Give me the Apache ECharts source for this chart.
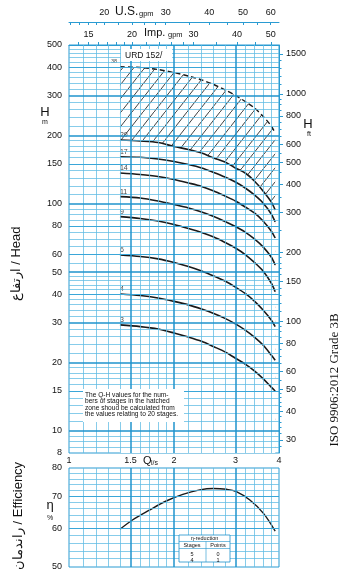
<!DOCTYPE html>
<html><head><meta charset="utf-8">
<script src="https://cdn.jsdelivr.net/npm/echarts@6/dist/echarts.min.js"></script>
<style>html,body{margin:0;padding:0;background:#fff}#c{width:350px;height:575px}</style>
</head><body><div id="c"></div>
<script>
// ---------- data ----------
const qStage = [1.4, 1.6, 1.8, 2.0, 2.2, 2.4, 2.6, 2.8, 3.0, 3.2, 3.4, 3.6, 3.8, 3.9];
const h38 = [401, 398, 390, 378, 365, 351, 335, 317, 300, 282, 264, 243, 220, 205];
const h20 = [190.9, 189.0, 186.2, 178.8, 173.4, 167.3, 159.1, 152.8, 143.8, 136.6, 126.0, 113.9, 101.9, 93.9];
const h17 = [161.2, 160.2, 157.5, 153.5, 148.9, 143.8, 137.4, 131.2, 124.7, 117.4, 109.4, 100.8, 90.2, 83.2];
const h14 = [136.6, 134.6, 131.9, 128.0, 123.5, 119.2, 113.9, 108.2, 102.9, 96.8, 91.1, 84.0, 75.9, 70.7];
const h11 = [107.5, 106.1, 102.9, 99.3, 95.9, 92.0, 87.9, 83.6, 79.4, 75.1, 70.0, 64.6, 58.3, 53.8];
const h9 = [87.8, 86.2, 84.0, 81.1, 77.9, 74.8, 71.4, 67.6, 63.9, 59.8, 55.2, 50.6, 44.8, 41.0];
const h6 = [59.5, 58.6, 57.2, 55.2, 53.0, 50.6, 48.1, 45.7, 43.0, 40.3, 37.3, 34.1, 30.8, 28.8];
const h4 = [40.1, 39.5, 38.5, 37.2, 35.9, 34.4, 32.9, 31.3, 29.6, 27.8, 25.9, 23.9, 21.6, 20.5];
const h3 = [29.3, 28.8, 28.1, 27.0, 25.9, 24.8, 23.5, 22.3, 20.9, 19.7, 18.4, 17.0, 15.6, 15.0];
const stageNames = ['20', '17', '14', '11', '9', '6', '4', '3'];

const qEff = [1.4, 1.52, 1.7, 1.9, 2.12, 2.37, 2.59, 2.83, 3.02, 3.3, 3.61, 3.9];
const effVals = [59.8, 62.5, 65.5, 68.4, 70.6, 72.1, 72.6, 72.3, 71.5, 68.7, 64.5, 59.3];

// ---------- tick labels / grid values ----------
const qLabels = [1, 1.5, 2, 3, 4];
const qGridMajor = [1.5, 2, 3];
const qGridMinor = [1.1, 1.2, 1.3, 1.4, 1.6, 1.7, 1.8, 1.9, 2.2, 2.4, 2.6, 2.8, 3.2, 3.4, 3.6, 3.8];
const hLabels = [8, 10, 15, 20, 30, 40, 50, 60, 80, 100, 150, 200, 300, 400, 500];
const hGridMajor = [10, 20, 30, 50, 100, 200, 300];
const hGridNormal = [15, 40, 60, 80, 150, 400];
const hGridMinor = [8.5, 9, 9.5, 11, 12, 13, 14, 16, 17, 18, 19, 22, 24, 26, 28, 32, 34, 36, 38, 42, 44, 46, 48,
  55, 65, 70, 75, 85, 90, 95, 110, 120, 130, 140, 160, 170, 180, 190,
  220, 240, 260, 280, 320, 340, 360, 380, 420, 440, 460, 480];
const ftLabels = [30, 40, 50, 60, 80, 100, 150, 200, 300, 400, 500, 600, 800, 1000, 1500];
const ftMinor = [28, 32, 34, 36, 38, 42, 44, 46, 48, 55, 65, 70, 75, 85, 90, 95, 110, 120, 130, 140,
  160, 170, 180, 190, 250, 350, 450, 550, 650, 700, 750, 850, 900, 950, 1100, 1200, 1300, 1400];
const usLabels = [20, 30, 40, 50, 60];
const usTicks = [16, 17, 18, 19, 20, 22, 24, 26, 28, 30, 35, 40, 45, 50, 55, 60];
const impLabels = [15, 20, 30, 40, 50];
const impTicks = [14, 15, 16, 17, 18, 19, 20, 22, 24, 26, 28, 30, 35, 40, 45, 50];
const effLabels = [50, 60, 70, 80];
const effGridMajor = [60, 70];
const effGridMinor = [52, 54, 56, 58, 62, 64, 66, 68, 72, 74, 76, 78];

// unit conversions
const Q_MIN = 1, Q_MAX = 4, H_MIN = 8, H_MAX = 500;
const IMP = 13.198, US = 15.850, FT = 3.28084;

// ---------- styles ----------
const FONT = '"Liberation Sans", Arial, sans-serif';
const BLUE = '#2a9bd2';
const GL_MAJOR = { color: '#1f93cc', width: 1.5, type: 'solid' };
const GL_NORMAL = { color: '#3aa6d8', width: 1, type: 'solid' };
const GL_MINOR = { color: '#5fbbe3', width: 0.75, type: 'solid' };
const CURVE = { color: '#1a1a1a', width: 1.6 };

function hatchPattern() {
  const c = document.createElement('canvas');
  c.width = 11; c.height = 14;
  const g = c.getContext('2d');
  g.fillStyle = '#fff'; g.fillRect(0, 0, 11, 14);
  g.strokeStyle = '#2a2a2a'; g.lineWidth = 0.9;
  g.beginPath(); g.moveTo(-1, 15.27); g.lineTo(12, -1.27); g.stroke();
  return c;
}
const yl = (vals, st) => vals.map(v => ({ yAxis: v, lineStyle: st }));
const xl = (vals, st) => vals.map(v => ({ xAxis: v, lineStyle: st }));
const markBase = { silent: true, symbol: ['none', 'none'], label: { show: false }, emphasis: { disabled: true }, animation: false };
const pairs = (xs, ys) => xs.map((x, i) => [x, ys[i]]);
const lbl = (extra) => Object.assign({ fontSize: 9, color: '#111', fontFamily: FONT }, extra);

const chart = echarts.init(document.getElementById('c'), null, { renderer: 'canvas' });

const stageCurves = [h20, h17, h14, h11, h9, h6, h4, h3];
const series = [];

// hatched zone: pattern under the 38-stage curve, then white under the 20-stage curve
series.push({
  type: 'line', xAxisIndex: 0, yAxisIndex: 0, smooth: 0.3, symbol: 'none', z: 1, silent: true,
  lineStyle: { opacity: 0 },
  areaStyle: { color: { image: hatchPattern(), repeat: 'repeat' }, opacity: 1, origin: 'start' },
  data: pairs(qStage, h38)
});
series.push({
  type: 'line', xAxisIndex: 0, yAxisIndex: 0, smooth: 0.3, symbol: 'none', z: 1.5, silent: true,
  lineStyle: { opacity: 0 },
  areaStyle: { color: '#fff', opacity: 1, origin: 'start' },
  data: pairs(qStage, h20)
});
// grid lines (main)
series.push({
  type: 'line', xAxisIndex: 0, yAxisIndex: 0, data: [], z: 2,
  markLine: Object.assign({}, markBase, {
    data: [].concat(yl(hGridMinor, GL_MINOR), xl(qGridMinor, GL_MINOR), yl(hGridNormal, GL_NORMAL),
      yl(hGridMajor, GL_MAJOR), xl(qGridMajor, GL_MAJOR))
  })
});
// grid lines (efficiency)
series.push({
  type: 'line', xAxisIndex: 3, yAxisIndex: 3, data: [], z: 2,
  markLine: Object.assign({}, markBase, {
    data: [].concat(yl(effGridMinor, GL_MINOR), xl(qGridMinor, GL_MINOR), yl(effGridMajor, GL_NORMAL), xl(qGridMajor, GL_MAJOR))
  })
});
// 38 stages dashed
series.push({
  type: 'line', xAxisIndex: 0, yAxisIndex: 0, smooth: 0.3, symbol: 'none', z: 3,
  lineStyle: { color: '#1a1a1a', width: 1.4, type: [5, 3] }, data: pairs(qStage, h38)
});
// stage curves
stageCurves.forEach((h, k) => {
  series.push({
    type: 'line', xAxisIndex: 0, yAxisIndex: 0, smooth: 0.3, symbol: 'none', z: 3,
    lineStyle: CURVE, data: pairs(qStage, h), name: stageNames[k]
  });
});
// stage labels
series.push({
  type: 'scatter', xAxisIndex: 0, yAxisIndex: 0, symbolSize: 0, z: 4, silent: true,
  data: [{ value: [qStage[0], h38[0], '38'], label: { position: 'left', distance: 9, offset: [0, -5], fontSize: 5.5 } }]
    .concat(stageCurves.map((h, k) => ({ value: [qStage[0], h[0], stageNames[k]] }))),
  label: { show: true, position: 'top', distance: 1, align: 'left', offset: [0, 0], fontSize: 7, color: '#111', fontFamily: FONT,
    formatter: p => p.value[2] }
});
// efficiency
series.push({
  type: 'line', xAxisIndex: 3, yAxisIndex: 3, smooth: 0.35, symbol: 'none', z: 3,
  lineStyle: { color: '#1a1a1a', width: 1.4 }, data: pairs(qEff, effVals)
});

const option = {
  backgroundColor: '#fff',
  animation: false,
  grid: [
    { left: 69, right: 71, top: 45, height: 408, show: true, borderColor: BLUE, borderWidth: 1, backgroundColor: '#fff' },
    { left: 69, right: 71, top: 468, height: 99, show: true, borderColor: BLUE, borderWidth: 1, backgroundColor: '#fff' }
  ],
  xAxis: [
    { gridIndex: 0, type: 'log', min: Q_MIN, max: Q_MAX, position: 'bottom', axisLine: { show: false }, axisTick: { show: false },
      splitLine: { show: false }, axisLabel: lbl({ customValues: qLabels, margin: 3, formatter: v => String(v) }) },
    { gridIndex: 0, type: 'log', min: Q_MIN * IMP, max: Q_MAX * IMP, position: 'top', offset: 0,
      axisLine: { show: true, lineStyle: { color: BLUE, width: 1 } },
      axisTick: { show: true, customValues: impTicks, length: 3, lineStyle: { color: BLUE } },
      splitLine: { show: false }, axisLabel: lbl({ customValues: impLabels, margin: 6, formatter: v => String(v) }) },
    { gridIndex: 0, type: 'log', min: Q_MIN * US, max: Q_MAX * US, position: 'top', offset: 23,
      axisLine: { show: true, lineStyle: { color: BLUE, width: 1 } },
      axisTick: { show: true, inside: true, customValues: usTicks, length: 3, lineStyle: { color: BLUE } },
      splitLine: { show: false }, axisLabel: lbl({ customValues: usLabels, margin: 5, formatter: v => String(v) }) },
    { gridIndex: 1, type: 'log', min: Q_MIN, max: Q_MAX, axisLine: { show: false }, axisTick: { show: false },
      splitLine: { show: false }, axisLabel: { show: false } }
  ],
  yAxis: [
    { gridIndex: 0, type: 'log', min: H_MIN, max: H_MAX, axisLine: { show: false }, axisTick: { show: false },
      splitLine: { show: false }, axisLabel: lbl({ customValues: hLabels, margin: 7, formatter: v => String(v) }) },
    { gridIndex: 0, type: 'log', min: H_MIN * FT, max: H_MAX * FT, position: 'right',
      axisLine: { show: true, lineStyle: { color: BLUE } },
      axisTick: { show: true, customValues: ftLabels, length: 4, lineStyle: { color: BLUE } },
      splitLine: { show: false }, axisLabel: lbl({ customValues: ftLabels, margin: 7, formatter: v => String(v) }) },
    { gridIndex: 0, type: 'log', min: H_MIN * FT, max: H_MAX * FT, position: 'right',
      axisLine: { show: false },
      axisTick: { show: true, customValues: ftMinor, length: 2.5, lineStyle: { color: BLUE } },
      splitLine: { show: false }, axisLabel: { show: false } },
    { gridIndex: 1, type: 'log', min: 50, max: 80, axisLine: { show: false }, axisTick: { show: false },
      splitLine: { show: false }, axisLabel: lbl({ customValues: effLabels, margin: 7, formatter: v => String(v) }) }
  ],
  series: series,
  graphic: [
    // axis titles
    { type: 'text', x: 115, y: 12, z: 10, style: { text: 'U.S.', fontSize: 12, fontFamily: FONT, fill: '#111', verticalAlign: 'middle' } },
    { type: 'text', x: 139, y: 14, z: 10, style: { text: 'gpm', fontSize: 7.5, fontFamily: FONT, fill: '#111', verticalAlign: 'middle' } },
    { type: 'text', x: 144, y: 33, z: 10, style: { text: 'Imp.', fontSize: 11, fontFamily: FONT, fill: '#111', verticalAlign: 'middle' } },
    { type: 'text', x: 168, y: 35, z: 10, style: { text: 'gpm', fontSize: 7.5, fontFamily: FONT, fill: '#111', verticalAlign: 'middle' } },
    { type: 'text', x: 45, y: 112, z: 10, style: { text: 'H', fontSize: 13, fontFamily: FONT, fill: '#111', align: 'center', verticalAlign: 'middle' } },
    { type: 'text', x: 45, y: 122, z: 10, style: { text: 'm', fontSize: 7, fontFamily: FONT, fill: '#111', align: 'center', verticalAlign: 'middle' } },
    { type: 'text', x: 308, y: 124, z: 10, style: { text: 'H', fontSize: 13, fontFamily: FONT, fill: '#111', align: 'center', verticalAlign: 'middle' } },
    { type: 'text', x: 309, y: 134, z: 10, style: { text: 'ft', fontSize: 7, fontFamily: FONT, fill: '#111', align: 'center', verticalAlign: 'middle' } },
    { type: 'text', x: 143, y: 461, z: 10, style: { text: 'Q', fontSize: 11, fontFamily: FONT, fill: '#111', verticalAlign: 'middle' } },
    { type: 'text', x: 151, y: 463, z: 10, style: { text: 'l/s', fontSize: 7, fontFamily: FONT, fill: '#111', verticalAlign: 'middle' } },
    { type: 'text', x: 50, y: 505, z: 10, style: { text: 'η', fontSize: 13, fontFamily: FONT, fill: '#111', align: 'center', verticalAlign: 'middle' } },
    { type: 'text', x: 50, y: 518, z: 10, style: { text: '%', fontSize: 7, fontFamily: FONT, fill: '#111', align: 'center', verticalAlign: 'middle' } },
    // vertical titles
    { type: 'text', x: 16, y: 264, rotation: Math.PI / 2, z: 10, style: { text: 'ارتفاع / Head', fontSize: 13, fontFamily: FONT, fill: '#111', align: 'center', verticalAlign: 'middle' } },
    { type: 'text', x: 18, y: 516, rotation: Math.PI / 2, z: 10, style: { text: 'راندمان / Efficiency', fontSize: 13, fontFamily: FONT, fill: '#111', align: 'center', verticalAlign: 'middle' } },
    { type: 'text', x: 335, y: 380, rotation: Math.PI / 2, z: 10, style: { text: 'ISO 9906:2012 Grade 3B', fontSize: 13, fontFamily: '"Liberation Serif", "Times New Roman", serif', fill: '#111', align: 'center', verticalAlign: 'middle' } },
    // URD box
    { type: 'rect', z: 10, shape: { x: 121, y: 49, width: 51, height: 12 }, style: { fill: '#fff', stroke: null } },
    { type: 'text', x: 125, y: 55.5, z: 11, style: { text: 'URD 152/', fontSize: 8.5, fontFamily: FONT, fill: '#111', verticalAlign: 'middle' } },
    // note box
    { type: 'rect', z: 10, shape: { x: 83, y: 389, width: 101, height: 33 }, style: { fill: '#fff', stroke: null } },
    { type: 'text', x: 85, y: 392, z: 11, style: { text: 'The Q-H values for the num-\nbers of stages in the hatched\nzone shoud be calculated from\nthe values relating to 20 stages.', fontSize: 6.6, lineHeight: 6.4, fontFamily: FONT, fill: '#111' } },
    // efficiency reduction table
    { type: 'rect', z: 10, shape: { x: 179, y: 535, width: 51, height: 27 }, style: { fill: '#fff', stroke: '#1f93cc', lineWidth: 0.8 } },
    { type: 'line', z: 11, shape: { x1: 179, y1: 541.5, x2: 230, y2: 541.5 }, style: { stroke: '#1f93cc', lineWidth: 0.6 } },
    { type: 'line', z: 11, shape: { x1: 179, y1: 548.5, x2: 230, y2: 548.5 }, style: { stroke: '#1f93cc', lineWidth: 0.6 } },
    { type: 'line', z: 11, shape: { x1: 206, y1: 541.5, x2: 206, y2: 562 }, style: { stroke: '#1f93cc', lineWidth: 0.6 } },
    { type: 'text', x: 204.5, y: 538.5, z: 11, style: { text: 'η-reduction', fontSize: 5.5, fontFamily: FONT, fill: '#111', align: 'center', verticalAlign: 'middle' } },
    { type: 'text', x: 192, y: 545.2, z: 11, style: { text: 'Stages', fontSize: 5.5, fontFamily: FONT, fill: '#111', align: 'center', verticalAlign: 'middle' } },
    { type: 'text', x: 218, y: 545.2, z: 11, style: { text: 'Points', fontSize: 5.5, fontFamily: FONT, fill: '#111', align: 'center', verticalAlign: 'middle' } },
    { type: 'text', x: 192, y: 552, z: 11, style: { text: '5\n4', fontSize: 5.5, lineHeight: 5.5, fontFamily: FONT, fill: '#111', align: 'center', verticalAlign: 'top' } },
    { type: 'text', x: 218, y: 552, z: 11, style: { text: '0\n1', fontSize: 5.5, lineHeight: 5.5, fontFamily: FONT, fill: '#111', align: 'center', verticalAlign: 'top' } }
  ]
};
chart.setOption(option);
</script>
</body></html>
